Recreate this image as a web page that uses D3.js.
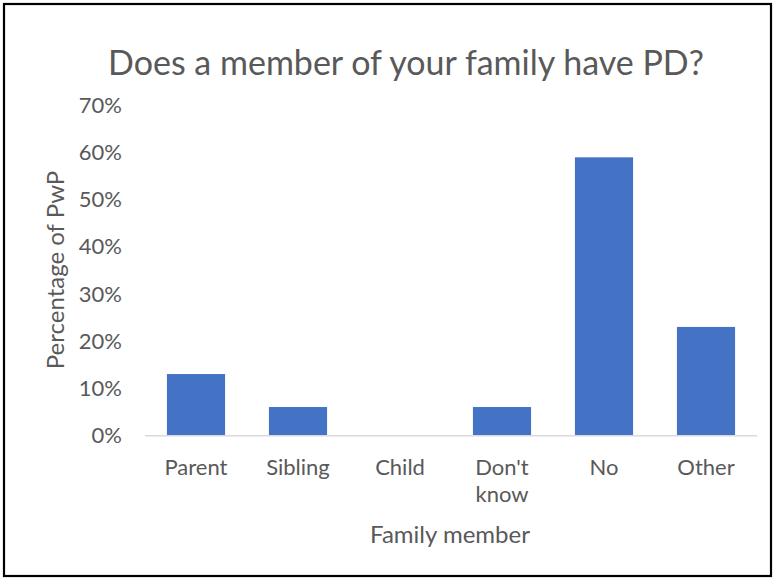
<!DOCTYPE html>
<html><head><meta charset="utf-8">
<script src="https://cdn.jsdelivr.net/npm/d3@7"></script>
<style>body{margin:0;background:#fff}svg{display:block}text{font-family:Lato,"Open Sans",sans-serif;fill:#595959}</style>
</head><body>
<script>
const categories = ["Parent","Sibling","Child","Don't know","No","Other"];
const values = [0.13,0.06,0,0.06,0.59,0.23];
const yTicks = [0,0.1,0.2,0.3,0.4,0.5,0.6,0.7];
const title = "Does a member of your family have PD?";
const xTitle = "Family member";
const yTitle = "Percentage of PwP";

(function(){
const W=775,H=580;
const svg=d3.select("body").append("svg").attr("width",W).attr("height",H);
svg.append("rect").attr("x",4).attr("y",4).attr("width",W-8).attr("height",H-8).attr("fill","#fff").attr("stroke","#000").attr("stroke-width",2.2);

const pL=145,pR=757,pT=105.5,pB=435.3;
const x=d3.scaleBand().domain(categories).range([pL,pR]).paddingInner(0.43).paddingOuter(0.215);
const y=d3.scaleLinear().domain([0,0.7]).range([pB,pT]);

svg.append("text").attr("x",406).attr("y",75).attr("text-anchor","middle").attr("font-size",34).text(title);

const ya=svg.append("g").attr("transform",`translate(${pL},0)`).call(d3.axisLeft(y).tickValues(yTicks).tickFormat(d3.format(".0%")).tickSize(0).tickPadding(23));
ya.select(".domain").remove();
ya.selectAll("text").attr("font-size",22).style("font-family","Lato").attr("fill","#595959");

svg.selectAll(".bar").data(values).join("rect").attr("class","bar")
 .attr("x",(d,i)=>x(categories[i])).attr("width",x.bandwidth())
 .attr("y",d=>y(d)).attr("height",d=>y(0)-y(d)).attr("fill","#4472C4");

const xa=svg.append("g").attr("transform",`translate(0,${pB})`).call(d3.axisBottom(x).tickSize(0).tickPadding(0));
xa.select(".domain").attr("stroke","#D9D9D9").attr("stroke-width",1.5).attr("d",`M${pL},0.5H${pR}`);
xa.selectAll("text").attr("font-size",22).style("font-family","Lato").attr("fill","#595959").attr("y",40).attr("dy",null)
 .each(function(d){const t=d3.select(this);if(d==="Don't know"){t.text(null);t.append("tspan").attr("x",0).attr("dy",0).text("Don't");t.append("tspan").attr("x",0).attr("dy",27).text("know");}});

svg.append("text").attr("x",450).attr("y",543).attr("text-anchor","middle").attr("font-size",24).text(xTitle);
svg.append("text").attr("transform","translate(64,270) rotate(-90)").attr("text-anchor","middle").attr("font-size",24).text(yTitle);
})();
</script>
</body></html>
